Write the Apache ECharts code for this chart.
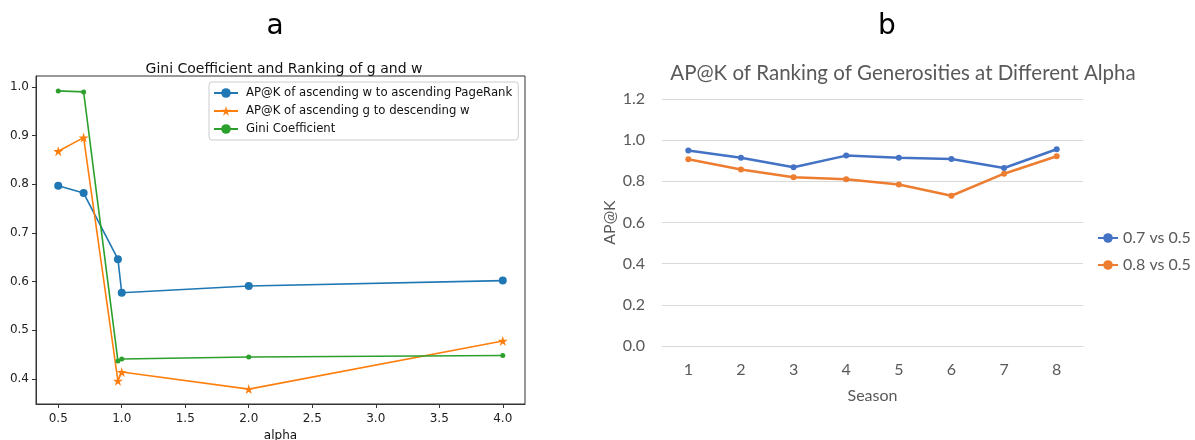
<!DOCTYPE html>
<html>
<head>
<meta charset="utf-8">
<script src="https://cdn.jsdelivr.net/npm/echarts@6/dist/echarts.min.js"></script>
<style>
  html, body { margin: 0; padding: 0; background: #fff; }
  #chart { width: 1195px; height: 440px; }
</style>
</head>
<body>
<div id="chart"></div>
<script>
// Panel a: ranking agreement and Gini coefficient versus alpha
const alphaValues = [0.5, 0.7, 0.97, 1.0, 2.0, 4.0];
const apkWvsPageRank = [0.797, 0.782, 0.646, 0.577, 0.591, 0.602];
const apkGvsW = [0.868, 0.896, 0.396, 0.414, 0.379, 0.478];
const giniCoefficient = [0.992, 0.990, 0.437, 0.441, 0.445, 0.448];
const alphaTicks = [0.5, 1.0, 1.5, 2.0, 2.5, 3.0, 3.5, 4.0];
const panelAYTicks = [0.4, 0.5, 0.6, 0.7, 0.8, 0.9, 1.0];

// Panel b: AP@K per season for two alpha comparisons
const seasons = ['1', '2', '3', '4', '5', '6', '7', '8'];
const ap07vs05 = [0.950, 0.915, 0.868, 0.925, 0.915, 0.909, 0.865, 0.956];
const ap08vs05 = [0.907, 0.857, 0.820, 0.810, 0.785, 0.730, 0.837, 0.922];

const pairs = (xs, ys) => xs.map((x, i) => [x, ys[i]]);

// 5% auto margins around the data, as in a default matplotlib axes
function padded(values) {
  const lo = Math.min(...values), hi = Math.max(...values);
  const m = (hi - lo) * 0.05;
  return [lo - m, hi + m];
}
const xRange = padded(alphaValues);
const yRange = padded([...apkWvsPageRank, ...apkGvsW, ...giniCoefficient]);

const STAR = 'path://M50,0 L61.2,34.5 L97.6,34.5 L68.2,55.9 L79.4,90.5 L50,69.1 L20.6,90.5 L31.8,55.9 L2.4,34.5 L38.8,34.5 Z';
const MPL_FONT = 'DejaVu Sans';
const XL_FONT = 'Lato';
const XL_GREY = '#595959';

const chart = echarts.init(document.getElementById('chart'), null, { renderer: 'canvas' });

chart.setOption({
  animation: false,
  backgroundColor: '#ffffff',
  title: [
    { text: 'a', left: 270, top: 22, textAlign: 'center', textVerticalAlign: 'middle',
      textStyle: { fontFamily: MPL_FONT, fontSize: 28, fontWeight: 'normal', color: '#000' } },
    { text: 'Gini Coefficient and Ranking of g and w', left: 279, top: 57, textAlign: 'center',
      textStyle: { fontFamily: MPL_FONT, fontSize: 14, fontWeight: 'normal', color: '#111' } },
    { text: 'b', left: 882, top: 22, textAlign: 'center', textVerticalAlign: 'middle',
      textStyle: { fontFamily: MPL_FONT, fontSize: 28, fontWeight: 'normal', color: '#000' } },
    { text: 'AP@K of Ranking of Generosities at Different Alpha', left: 898, top: 58, textAlign: 'center',
      textStyle: { fontFamily: XL_FONT, fontSize: 20.5, fontWeight: 'normal', color: XL_GREY } }
  ],
  legend: [
    {
      data: ['AP@K of ascending w to ascending PageRank', 'AP@K of ascending g to descending w', 'Gini Coefficient'],
      orient: 'vertical', left: 209, top: 82,
      backgroundColor: '#fff', borderColor: '#cccccc', borderWidth: 1, borderRadius: 3,
      padding: [5, 6, 5, 4], itemWidth: 24, itemHeight: 12, itemGap: 6,
      textStyle: { fontFamily: MPL_FONT, fontSize: 11.7, color: '#111', padding: [0, 0, 0, 3] }
    },
    {
      data: ['0.7 vs 0.5', '0.8 vs 0.5'],
      orient: 'vertical', left: 1092, top: 225,
      itemWidth: 20, itemHeight: 12, itemGap: 11,
      textStyle: { fontFamily: XL_FONT, fontSize: 16, color: XL_GREY }
    }
  ],
  grid: [
    { left: 36, top: 76, width: 489, height: 328, outerBoundsMode: 'none',
      show: true, borderColor: '#333', borderWidth: 1, backgroundColor: 'transparent' },
    { left: 662, top: 99, width: 421, height: 247, outerBoundsMode: 'none' }
  ],
  xAxis: [
    {
      gridIndex: 0, type: 'value', min: xRange[0], max: xRange[1],
      name: 'alpha', nameLocation: 'middle', nameGap: 26,
      nameTextStyle: { fontFamily: MPL_FONT, fontSize: 12, color: '#111' },
      axisLine: { show: true, onZero: false, lineStyle: { color: '#333', width: 1 } },
      axisTick: { show: true, length: 4, customValues: alphaTicks, lineStyle: { color: '#333' } },
      axisLabel: { customValues: alphaTicks, margin: 9, fontFamily: MPL_FONT, fontSize: 12, color: '#222',
        formatter: v => v.toFixed(1) },
      splitLine: { show: false }
    },
    {
      gridIndex: 1, type: 'category', data: seasons, boundaryGap: true,
      name: 'Season', nameLocation: 'middle', nameGap: 42,
      nameTextStyle: { fontFamily: XL_FONT, fontSize: 16, color: XL_GREY },
      axisLine: { show: true, lineStyle: { color: '#d9d9d9', width: 1 } },
      axisTick: { show: false },
      axisLabel: { margin: 16, fontFamily: XL_FONT, fontSize: 16, color: XL_GREY }
    }
  ],
  yAxis: [
    {
      gridIndex: 0, type: 'value', min: yRange[0], max: yRange[1],
      axisLine: { show: true, onZero: false, lineStyle: { color: '#333', width: 1 } },
      axisTick: { show: true, length: 4, customValues: panelAYTicks, lineStyle: { color: '#333' } },
      axisLabel: { customValues: panelAYTicks, margin: 7, fontFamily: MPL_FONT, fontSize: 12, color: '#222',
        formatter: v => v.toFixed(1) },
      splitLine: { show: false }
    },
    {
      gridIndex: 1, type: 'value', min: 0, max: 1.2, interval: 0.2,
      name: 'AP@K', nameLocation: 'middle', nameGap: 44, nameRotate: 90,
      nameTextStyle: { fontFamily: XL_FONT, fontSize: 16, color: XL_GREY },
      axisLine: { show: false }, axisTick: { show: false },
      axisLabel: { margin: 17, fontFamily: XL_FONT, fontSize: 16, color: XL_GREY,
        formatter: v => v.toFixed(1) },
      splitLine: { lineStyle: { color: '#d9d9d9', width: 1 } }
    }
  ],
  series: [
    {
      name: 'AP@K of ascending w to ascending PageRank', type: 'line',
      xAxisIndex: 0, yAxisIndex: 0, data: pairs(alphaValues, apkWvsPageRank),
      symbol: 'circle', symbolSize: 8, color: '#1f77b4',
      lineStyle: { width: 1.6 }, itemStyle: { color: '#1f77b4' }
    },
    {
      name: 'AP@K of ascending g to descending w', type: 'line',
      xAxisIndex: 0, yAxisIndex: 0, data: pairs(alphaValues, apkGvsW),
      symbol: STAR, symbolSize: 10, color: '#ff7f0e',
      lineStyle: { width: 1.6 }, itemStyle: { color: '#ff7f0e' }
    },
    {
      name: 'Gini Coefficient', type: 'line',
      xAxisIndex: 0, yAxisIndex: 0, data: pairs(alphaValues, giniCoefficient),
      symbol: 'circle', symbolSize: 5, color: '#2ca02c',
      lineStyle: { width: 1.6 }, itemStyle: { color: '#2ca02c' }
    },
    {
      name: '0.7 vs 0.5', type: 'line', xAxisIndex: 1, yAxisIndex: 1, data: ap07vs05,
      symbol: 'circle', symbolSize: 6, color: '#4472c4',
      lineStyle: { width: 2.5 }, itemStyle: { color: '#4472c4' }
    },
    {
      name: '0.8 vs 0.5', type: 'line', xAxisIndex: 1, yAxisIndex: 1, data: ap08vs05,
      symbol: 'circle', symbolSize: 6, color: '#ed7d31',
      lineStyle: { width: 2.5 }, itemStyle: { color: '#ed7d31' }
    }
  ]
});
</script>
</body>
</html>
